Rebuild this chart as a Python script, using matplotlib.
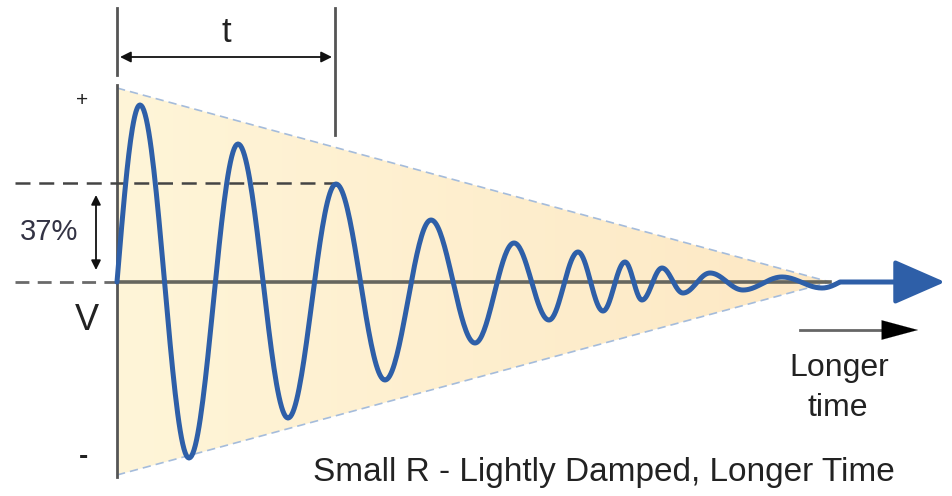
import numpy as np
import matplotlib.pyplot as plt
from matplotlib.patches import Polygon
from matplotlib.colors import LinearSegmentedColormap

plt.rcParams['font.family'] = ['Liberation Sans', 'DejaVu Sans']

# turning points of the ringing voltage (time, volts) - zero start, peaks/troughs, zero end
wave_t = [0, 23, 72, 121, 171, 219, 268, 314, 358, 397, 432, 461, 486, 508, 525,
          545, 566, 593, 626, 665, 705, 723]
wave_v = [0, 177, -176, 138, -136, 98, -98, 62, -61, 39, -38, 30, -29, 20, -18,
          14, -11, 9, -8, 5, -6, 0]
tail_end = 790

# decay envelope (triangle)
env_t = [0, 713]
env_top = [194, 0]
env_bot = [-193, 0]

# 37% level and time-constant marker
level_37 = 99
tau_t = 218

fig = plt.figure(figsize=(9.53, 4.96), dpi=100)
ax = fig.add_axes([0, 0, 1, 1])
ax.set_xlim(-117, 836)
ax.set_ylim(-214, 282)
ax.axis('off')

# shaded envelope with a soft left-to-right gradient
tri = Polygon([(env_t[0], env_top[0]), (env_t[1], env_top[1]), (env_t[0], env_bot[0])],
              closed=True, facecolor='none', edgecolor='none')
ax.add_patch(tri)
cmap = LinearSegmentedColormap.from_list('env', ['#fff5d8', '#fde8c4'])
grad = np.linspace(0, 1, 256).reshape(1, -1)
im = ax.imshow(grad, cmap=cmap, aspect='auto', zorder=1,
               extent=[env_t[0], env_t[1], env_bot[0], env_top[0]])
im.set_clip_path(tri)
ax.plot(env_t, env_top, color='#a5bcdb', lw=1.2, dashes=(5, 3), zorder=2)
ax.plot(env_t, env_bot, color='#a5bcdb', lw=1.2, dashes=(5, 3), zorder=2)

# axes lines
ax.plot([0, env_t[1]], [0, 0], color='#66665e', lw=2.6, zorder=3)
ax.plot([-102, 0], [0, 0], color='#6a6a6a', lw=2, dashes=(5, 3), zorder=3)
ax.plot([0, 0], [-195, 197], color='#555555', lw=2, zorder=3)
ax.plot([-102, tau_t], [level_37, level_37], color='#444444', lw=1.8,
        dashes=(6, 3.5), zorder=3)

# time-constant markers and arrow
ax.plot([0, 0], [207, 274], color='#555555', lw=2)
ax.plot([tau_t, tau_t], [147, 274], color='#555555', lw=2)
ax.annotate('', xy=(3, 225), xytext=(tau_t - 3, 225),
            arrowprops=dict(arrowstyle='<|-|>', color='#111111', lw=1.3,
                            mutation_scale=16, shrinkA=0, shrinkB=0))
ax.text(tau_t / 2, 249, 't', fontsize=25, ha='center', va='center', color='#222222')

# 37% arrow
ax.annotate('', xy=(-21, 87), xytext=(-21, 12),
            arrowprops=dict(arrowstyle='<|-|>', color='#111111', lw=1.3,
                            mutation_scale=14, shrinkA=0, shrinkB=0))
ax.text(-68, 50, '37%', fontsize=21, ha='center', va='center', color='#333344')

# damped oscillation drawn through the turning points
xs, ys = [], []
for i in range(len(wave_t) - 1):
    t0, t1 = wave_t[i], wave_t[i + 1]
    v0, v1 = wave_v[i], wave_v[i + 1]
    s = np.linspace(0, 1, 40)
    if v0 == 0:
        seg = v1 * np.sin(np.pi / 2 * s)
    elif v1 == 0:
        seg = v0 * np.cos(np.pi / 2 * s)
    else:
        seg = v0 + (v1 - v0) * (1 - np.cos(np.pi * s)) / 2
    xs.extend(t0 + (t1 - t0) * s)
    ys.extend(seg)
xs.append(tail_end)
ys.append(0)
ax.plot(xs, ys, color='#2e5fa8', lw=3.6, solid_capstyle='round', zorder=5)
ax.annotate('', xy=(828, 0), xytext=(tail_end - 5, 0),
            arrowprops=dict(arrowstyle='-|>,head_length=1.6,head_width=0.7',
                            color='#2e5fa8', lw=3, mutation_scale=20,
                            shrinkA=0, shrinkB=0), zorder=6)

# polarity labels
ax.text(-35, 181, '+', fontsize=15, ha='center', va='center', color='#222222')
ax.text(-30, -39, 'V', fontsize=26, ha='center', va='center', color='#222222')
ax.text(-33, -175, '-', fontsize=20, fontweight='bold', ha='center', va='center',
        color='#222222')

# longer-time arrow
ax.plot([683, 775], [-48, -48], color='#666666', lw=2)
ax.annotate('', xy=(801, -48), xytext=(770, -48),
            arrowprops=dict(arrowstyle='-|>,head_length=1.3,head_width=0.35',
                            color='black', lw=0.1, mutation_scale=20,
                            shrinkA=0, shrinkB=0))
ax.text(722, -86, 'Longer', fontsize=23, ha='center', va='center', color='#222222')
ax.text(721, -126, 'time', fontsize=23, ha='center', va='center', color='#222222')

ax.text(487, -190, 'Small R - Lightly Damped, Longer Time', fontsize=24,
        ha='center', va='center', color='#222222')

fig.savefig('out.png', dpi=100)
